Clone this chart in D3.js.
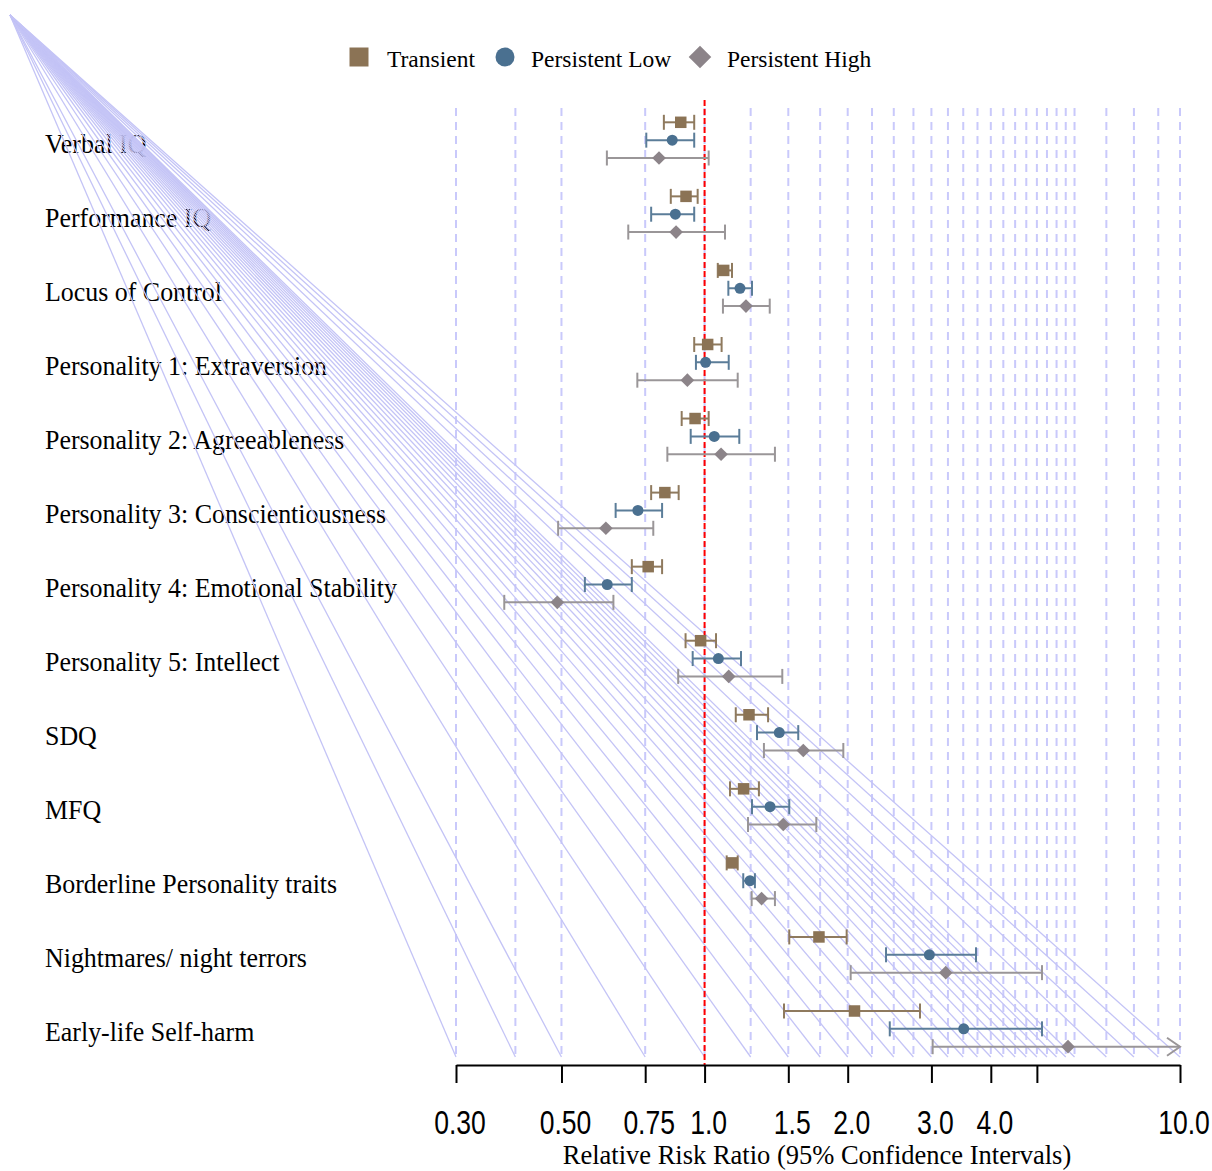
<!DOCTYPE html>
<html>
<head>
<meta charset="utf-8">
<script src="https://cdn.jsdelivr.net/npm/d3@7"></script>
<style>
  body { margin: 0; background: #fff; }
  svg { display: block; }
</style>
</head>
<body>
<div id="chart"></div>
<script>
// outcome rows, top to bottom
var rows = ["Verbal IQ", "Performance IQ", "Locus of Control",
  "Personality 1: Extraversion", "Personality 2: Agreeableness",
  "Personality 3: Conscientiousness", "Personality 4: Emotional Stability",
  "Personality 5: Intellect", "SDQ", "MFQ", "Borderline Personality traits",
  "Nightmares/ night terrors", "Early-life Self-harm"];

var series = ["Transient", "Persistent Low", "Persistent High"];

// relative risk ratios + 95% CI, one array per series
var transientRR = [0.891, 0.914, 1.097, 1.015, 0.955, 0.825, 0.761, 0.981, 1.240, 1.208, 1.144, 1.740, 2.067];
var transientLo = [0.821, 0.849, 1.066, 0.951, 0.895, 0.772, 0.703, 0.912, 1.163, 1.131, 1.113, 1.507, 1.469];
var transientHi = [0.951, 0.967, 1.142, 1.086, 1.020, 0.882, 0.814, 1.057, 1.360, 1.301, 1.174, 1.990, 2.839];

var lowRR = [0.855, 0.868, 1.187, 1.005, 1.048, 0.724, 0.624, 1.069, 1.436, 1.373, 1.246, 2.970, 3.508];
var lowLo = [0.754, 0.772, 1.122, 0.959, 0.935, 0.650, 0.560, 0.944, 1.289, 1.258, 1.206, 2.408, 2.452];
var lowHi = [0.951, 0.951, 1.258, 1.124, 1.183, 0.814, 0.703, 1.193, 1.574, 1.507, 1.276, 3.723, 5.126];

var highRR = [0.802, 0.871, 1.222, 0.920, 1.083, 0.620, 0.490, 1.124, 1.613, 1.464, 1.318, 3.216, 5.813];
var highLo = [0.623, 0.691, 1.093, 0.722, 0.835, 0.492, 0.379, 0.880, 1.333, 1.234, 1.256, 2.029, 3.018];
var highHi = [1.020, 1.104, 1.371, 1.174, 1.406, 0.780, 0.643, 1.457, 1.958, 1.718, 1.406, 5.126, 14.0];

// reference grid and axis ticks
var gridValues = [0.3, 0.4, 0.5, 0.75, 1, 1.25, 1.5, 1.75, 2, 2.25, 2.5, 2.75, 3, 3.25, 3.5, 3.75,
  4, 4.25, 4.5, 4.75, 5, 5.25, 5.5, 5.75, 6, 7, 8, 9, 10];
var tickValues = [0.3, 0.5, 0.75, 1, 1.5, 2, 3, 4, 5, 10];
var tickLabels = ["0.30", "0.50", "0.75", "1.0", "1.5", "2.0", "3.0", "4.0", "", "10.0"];

var cfg = {
  w: 1212,
  h: 1171,
  serif: "'Liberation Serif', 'Times New Roman', Times, serif",
  sans: "'Liberation Sans', Arial, Helvetica, sans-serif",
  grid: "#c9c9fb",
  colors: ["#8b7355", "#4a7090", "#8c8489"],
  ciColors: ["#8f7a5e", "#5b7d99", "#9a9698"]
};

var svg = d3.select("#chart").append("svg")
  .attr("width", cfg.w)
  .attr("height", cfg.h);

svg.append("rect").attr("width", cfg.w).attr("height", cfg.h).attr("fill", "#fff");

var x = d3.scaleLog().domain([0.3, 10]).range([456, 1180]);

// y for each row (centre = persistent low), series offset inside row
var y = d3.scalePoint().domain(rows).range([140.5, 1029.2]);
var ySub = d3.scalePoint().domain(series).range([-18.2, 17.5]);

var gridTop = 108, gridBottom = 1057, axisY = 1065;

/////////////////////// row labels ///////////////////////
svg.append("g").selectAll("text")
  .data(rows)
  .enter().append("text")
  .attr("transform", function(d) { return "translate(45," + (y(d) + 12) + ") scale(0.96,1)"; })
  .style("font-family", cfg.serif)
  .style("font-size", "27px")
  .style("fill", "#000")
  .text(function(d) { return d; });

/////////////////////// dashed grid ///////////////////////
svg.append("g").selectAll("line")
  .data(gridValues)
  .enter().append("line")
  .attr("x1", function(d) { return x(d); })
  .attr("x2", function(d) { return x(d); })
  .attr("y1", gridTop)
  .attr("y2", gridBottom)
  .style("stroke", cfg.grid)
  .style("stroke-width", 2)
  .style("stroke-dasharray", "8,6");

// the stray lines all running from the top-left corner to the grid feet
svg.append("g").selectAll("line")
  .data(gridValues)
  .enter().append("line")
  .attr("x1", 10)
  .attr("y1", 15)
  .attr("x2", function(d) { return x(d); })
  .attr("y2", gridBottom)
  .style("stroke", "#c4c4f6")
  .style("stroke-width", 1.3);

// null line at RR = 1
svg.append("line")
  .attr("x1", x(1)).attr("x2", x(1))
  .attr("y1", 100).attr("y2", axisY)
  .style("stroke", "#ff0000")
  .style("stroke-width", 2)
  .style("stroke-dasharray", "6,3");

/////////////////////// axis ///////////////////////
var axis = d3.axisBottom(x)
  .tickValues(tickValues)
  .tickFormat(function(d, i) { return tickLabels[i]; })
  .tickSize(18)
  .tickSizeOuter(0);

var gAxis = svg.append("g")
  .attr("transform", "translate(0," + axisY + ")")
  .call(axis);

gAxis.select(".domain").style("stroke", "#000").style("stroke-width", 2);
gAxis.selectAll(".tick line").style("stroke", "#000").style("stroke-width", 2);
gAxis.selectAll(".tick text")
  .attr("y", 0)
  .attr("dy", 0)
  .attr("x", 0)
  .attr("transform", "translate(3.5,69) scale(0.78,1)")
  .style("font-family", cfg.sans)
  .style("font-size", "34px")
  .style("fill", "#000");

svg.append("text")
  .attr("x", 817)
  .attr("y", 1164)
  .attr("text-anchor", "middle")
  .style("font-family", cfg.serif)
  .style("font-size", "26.5px")
  .text("Relative Risk Ratio (95% Confidence Intervals)");

/////////////////////// estimates ///////////////////////
var seriesData = [
  { name: series[0], rr: transientRR, lo: transientLo, hi: transientHi },
  { name: series[1], rr: lowRR, lo: lowLo, hi: lowHi },
  { name: series[2], rr: highRR, lo: highLo, hi: highHi }
];

var xMax = x.domain()[1];

function markerPath(k, size) {
  if (k === 0) return d3.symbol().type(d3.symbolSquare).size(size * size)();
  if (k === 1) return d3.symbol().type(d3.symbolCircle).size(Math.PI * size * size / 4)();
  return d3.symbol().type(d3.symbolDiamond2).size(size * size * 0.9)();
}

seriesData.forEach(function(s, k) {
  var pts = rows.map(function(r, i) {
    return { row: r, rr: s.rr[i], lo: s.lo[i], hi: s.hi[i] };
  });
  var g = svg.append("g").attr("class", "series" + k);
  var yy = function(d) { return y(d.row) + ySub(s.name); };

  g.selectAll(".ci")
    .data(pts).enter().append("line")
    .attr("x1", function(d) { return x(d.lo); })
    .attr("x2", function(d) { return x(Math.min(d.hi, xMax)); })
    .attr("y1", yy).attr("y2", yy)
    .style("stroke", cfg.ciColors[k])
    .style("stroke-width", 2);

  // lower caps
  g.selectAll(".capL")
    .data(pts).enter().append("line")
    .attr("x1", function(d) { return x(d.lo); })
    .attr("x2", function(d) { return x(d.lo); })
    .attr("y1", function(d) { return yy(d) - 7.5; })
    .attr("y2", function(d) { return yy(d) + 7.5; })
    .style("stroke", cfg.ciColors[k])
    .style("stroke-width", 2);

  // upper caps, or an open arrow when the interval runs off the axis
  g.selectAll(".capH")
    .data(pts).enter().append("path")
    .attr("d", function(d) {
      var cy = yy(d);
      if (d.hi > xMax) {
        var ax = x(xMax);
        return "M" + (ax - 13) + "," + (cy - 9) + "L" + ax + "," + cy + "L" + (ax - 13) + "," + (cy + 9);
      }
      return "M" + x(d.hi) + "," + (cy - 7.5) + "L" + x(d.hi) + "," + (cy + 7.5);
    })
    .style("fill", "none")
    .style("stroke", cfg.ciColors[k])
    .style("stroke-width", 2);

  g.selectAll(".pt")
    .data(pts).enter().append("path")
    .attr("transform", function(d) { return "translate(" + x(d.rr) + "," + yy(d) + ")"; })
    .attr("d", markerPath(k, k === 1 ? 11 : 11.5))
    .style("fill", cfg.colors[k]);
});

/////////////////////// legend ///////////////////////
var legendX = [359, 505, 700];
var legendTextX = [387, 531, 727];
var legend = svg.append("g").selectAll("g")
  .data(series)
  .enter().append("g");

legend.append("path")
  .attr("transform", function(d, i) { return "translate(" + legendX[i] + ",57)"; })
  .attr("d", function(d, i) { return markerPath(i, 19); })
  .style("fill", function(d, i) { return cfg.colors[i]; });

legend.append("text")
  .attr("x", function(d, i) { return legendTextX[i]; })
  .attr("y", 67)
  .style("font-family", cfg.serif)
  .style("font-size", "23.5px")
  .text(function(d) { return d; });
</script>
</body>
</html>
